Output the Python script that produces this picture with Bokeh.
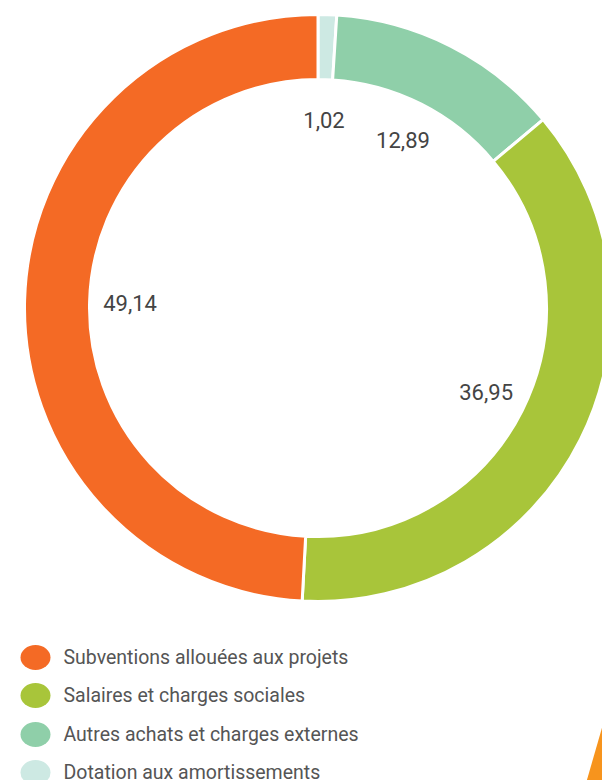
import math
from bokeh.plotting import figure
from bokeh.models import Range1d, ColumnDataSource
from bokeh.core.properties import value
from bokeh.embed import file_html
from bokeh.resources import INLINE

# Data (clockwise from top)
categories = ["Dotation aux amortissements", "Autres achats et charges externes",
              "Salaires et charges sociales", "Subventions allouées aux projets"]
values = [1.02, 12.89, 36.95, 49.14]
colors = ["#CDE9E3", "#8FCFA9", "#A8C53A", "#F46A25"]

# Legend order (top to bottom)
legend_order = [3, 2, 1, 0]

CX, CY = 317.5, -307.5
R_OUT, R_IN = 293.5, 228.5
R_LABEL = 188

total = sum(values)
starts, ends, lx, ly, labels = [], [], [], [], []
acc = 0.0
for v in values:
    a0 = math.pi / 2 - 2 * math.pi * acc / total
    a1 = math.pi / 2 - 2 * math.pi * (acc + v) / total
    starts.append(a0)
    ends.append(a1)
    mid = (a0 + a1) / 2
    lx.append(CX + R_LABEL * math.cos(mid))
    ly.append(CY + R_LABEL * math.sin(mid))
    labels.append(f"{v:.2f}".replace(".", ","))
    acc += v

p = figure(width=602, height=780, output_backend="svg", toolbar_location=None,
           x_range=Range1d(0, 602), y_range=Range1d(-780, 0),
           min_border=0, outline_line_color=None,
           x_axis_type=None, y_axis_type=None)
p.xgrid.visible = False
p.ygrid.visible = False
p.background_fill_color = "white"

src = ColumnDataSource(dict(start=starts, end=ends, color=colors))
p.annular_wedge(x=CX, y=CY, inner_radius=R_IN, outer_radius=R_OUT,
                start_angle="start", end_angle="end", direction="clock",
                fill_color="color", line_color="white", line_width=3, source=src)

p.text(x=lx, y=ly, text=labels, text_align="center", text_baseline="middle",
       text_color="#444444", text_font=value("Roboto"), text_font_size="22px")

# Legend
leg_y = [-657, -695, -734, -772]
leg_cols = [colors[i] for i in legend_order]
leg_txt = [categories[i] for i in legend_order]
p.ellipse(x=[35] * 4, y=leg_y, width=30, height=25, fill_color=leg_cols, line_color=None)
p.text(x=[63] * 4, y=leg_y, text=leg_txt, text_align="left", text_baseline="middle",
       text_color="#555555", text_font=value("Roboto"), text_font_size="19.5px")

# decorative orange shape at bottom right
p.patch(x=[603, 586, 603], y=[-722, -781, -781], fill_color="#F7941D", line_color=None)

open("out.html", "w").write(file_html(p, INLINE))
